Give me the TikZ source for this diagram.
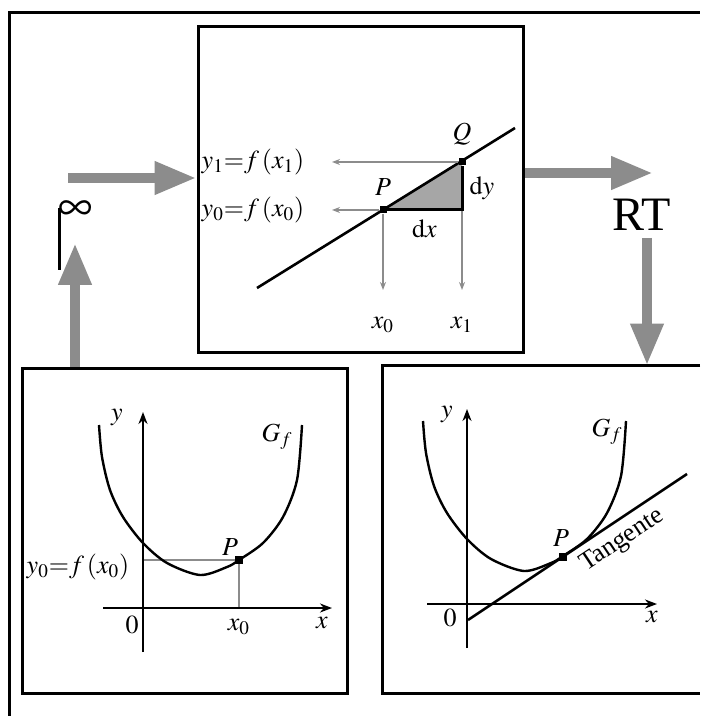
\documentclass[tikz,border=0pt]{standalone}
\usepackage{mathptmx}
\usepackage{fontspec}
\setmainfont{Liberation Serif}
\usetikzlibrary{arrows.meta,positioning,calc}
\definecolor{halftone}{gray}{0.55}

\begin{document}
\begin{tikzpicture}[
 x=0.5pt, y=-0.5pt,
 lbl/.style={font=\fontsize{13}{15}\selectfont, inner sep=1pt},
 panel/.style={draw, line width=1.5pt, minimum width=162.5pt, minimum height=162.5pt, inner sep=0pt},
 bigar/.style={-{Triangle[length=21pt,width=15.5pt]}, draw=halftone, line width=5pt},
 thinar/.style={-{Stealth[length=4pt,width=3pt]}, draw=halftone, line width=0.9pt},
 guide/.style={draw=halftone, line width=0.9pt},
 axis/.style={-{Stealth[length=6pt,width=4.5pt]}, line width=1pt},
 curve/.style={line width=1.2pt},
 dotmark/.style={fill=black, inner sep=0pt, minimum size=4pt},
]
 \useasboundingbox (0,0) rectangle (700,716);
 \draw[line width=1.5pt] (9,716) -- (9,13) -- (700,13);

 % flow arrows
 \node[panel] (top) at (360.5,189.5) {};
 \coordinate (instart) at (68,178);
 \coordinate (outend) at (653,173);
 \coordinate (dnstart) at (647,238);
 \coordinate (upend) at (75,243);
 \node[font=\fontsize{24}{28}\selectfont, inner sep=0pt] (RT) at (642,215) {RT};
 \node[font=\fontsize{24}{28}\selectfont, inner sep=0pt] (inf) at (76,211) {$\infty$};
 \draw[line width=1.4pt] (inf.west) ++(1,-3) -- ++(0,62);

 \draw[bigar] (instart) -- (instart -| top.west);
 \draw[bigar] (outend -| top.east) -- (outend);

 % top panel: secant
 \coordinate (R) at (462,210);
 \coordinate (y1end) at (332,162);
 \coordinate (y0end) at (332,210);
 \coordinate (x0end) at (383,290);
 \coordinate (x1end) at (462,290);
 \fill[black!35] (383,210) -- (R) -- (462,162) -- cycle;
 \draw[line width=1.3pt] (257,288) -- (515,128);
 \node[dotmark, minimum size=3.5pt] (P) at (383,210) {};
 \node[dotmark, minimum size=3.5pt] (Q) at (462,162) {};
 \draw[thinar] (Q) -- (y1end);
 \draw[thinar] (P) -- (y0end);
 \draw[thinar] (P) -- (x0end);
 \draw[thinar] (R) -- (x1end);
 \draw[line width=1.5pt] (P) -- (R) node[midway, below=3pt, lbl] (dx) {$\mathrm{d}x$}
   -- (Q) node[midway, right=2pt, lbl] (dy) {$\mathrm{d}y$};
 \node[lbl, above=4pt of P] (Plab) {$P$};
 \node[lbl, above=5pt of Q] (Qlab) {$Q$};
 \node[lbl] (y1) at (253,162) {$y_1{=}f\,(x_1)$};
 \node[lbl] (y0) at (253,210) {$y_0{=}f\,(x_0)$};
 \node[lbl] (x0) at (383,325) {$x_0$};
 \node[lbl] (x1) at (462,325) {$x_1$};

 % bottom left: graph with P
 \node[panel] (bl) at (185,530.5) {};
 \draw[bigar] (upend |- bl.north) -- (upend);
 \begin{scope}[shift={(143,608)}, yscale=-1]
  \draw[guide] (0,48) -- (96,48) -- (96,0);
  \draw[axis] (-40,0) -- (189,0);
  \draw[axis] (0,-44) -- (0,196);
  \draw[curve] plot[smooth] coordinates {(-44,183) (-41,151) (-33,118) (-20,91) (0,65) (24,45) (57,33) (84,41) (96,48) (120,65) (140,91) (154,128) (159,183)};
  \node[dotmark] (Pl) at (96,48) {};
  \node[lbl] (Pllab) at (87,61) {$P$};
  \node[lbl] (Gl) at (134,171) {$G_f$};
  \node[lbl] (yl) at (-26,190) {$y$};
  \node[lbl] (xl) at (179,-15) {$x$};
  \node[lbl] (ol) at (-11,-17) {$0$};
  \node[lbl] (x0l) at (96,-19) {$x_0$};
  \node[lbl] (y0l) at (-65,41) {$y_0{=}f\,(x_0)$};
 \end{scope}

 % bottom right: graph with tangent (box runs off the right edge)
 \node[panel, draw=none] (br) at (546,529.5) {};
 \draw[line width=1.5pt] (br.north west -| 700,0) -- (br.north west) -- (br.south west) -- (br.south west -| 700,0);
 \draw[bigar] (dnstart) -- (dnstart |- br.north);
 \begin{scope}[shift={(467,604)}, yscale=-1]
  \draw[axis] (-40,0) -- (190,0);
  \draw[axis] (0,-44) -- (0,195);
  \draw[curve] plot[smooth] coordinates {(-44,183) (-41,151) (-33,118) (-20,91) (0,65) (24,45) (57,33) (84,41) (96,48) (120,65) (140,91) (154,128) (159,183)};
  \draw[line width=1.3pt] (1,-16) -- (220,130) node[pos=0.655, anchor=north, rotate=33.7, lbl, inner sep=3.5pt] (tang) {Tangente};
  \node[dotmark] (Pr) at (96,47) {};
  \node[lbl] (Prlab) at (94,66) {$P$};
  \node[lbl] (Gr) at (140,172) {$G_f$};
  \node[lbl] (yr) at (-20,189) {$y$};
  \node[lbl] (xr) at (185,-13) {$x$};
  \node[lbl] (or) at (-17,-14) {$0$};
 \end{scope}
\end{tikzpicture}
\end{document}
